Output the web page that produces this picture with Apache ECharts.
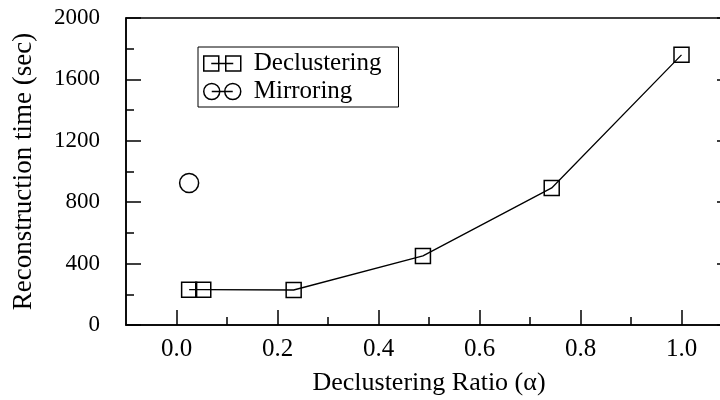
<!DOCTYPE html>
<html>
<head>
<meta charset="utf-8">
<script src="https://cdn.jsdelivr.net/npm/echarts@6/dist/echarts.min.js"></script>
<style>
  html, body { margin: 0; padding: 0; background: #fff; }
  #chart { width: 720px; height: 400px; }
</style>
</head>
<body>
<div id="chart"></div>
<script>
// Reconstruction time vs. declustering ratio
const seriesNames = ['Declustering', 'Mirroring'];
const declusterRatio = [0.025, 0.053, 0.232, 0.488, 0.743, 1.0];
const declusterTime = [230, 230, 228, 450, 893, 1760];
const mirrorRatio = [0.025];
const mirrorTime = [925];
const xMajorTicks = [0.0, 0.2, 0.4, 0.6, 0.8, 1.0];
const xMinorTicks = [0.1, 0.3, 0.5, 0.7, 0.9];
const xTitle = 'Declustering Ratio (α)';
const yTitle = 'Reconstruction time (sec)';

const FONT = '"Liberation Serif", "Times New Roman", serif';
const INK = '#000';

const pairs = (xs, ys) => xs.map((x, i) => [x, ys[i]]);

// legend glyphs: two markers joined by a short line
const rectPairIcon = 'path://M0,0L15,0L15,15L0,15Z M22,0L37,0L37,15L22,15Z M7.5,7.5L29.5,7.5';
const circlePairIcon = 'path://M0,8A8,8 0 1,0 16,8A8,8 0 1,0 0,8Z M21,8A8,8 0 1,0 37,8A8,8 0 1,0 21,8Z M8,8L29,8';

const chart = echarts.init(document.getElementById('chart'), null, { renderer: 'canvas' });

const markerStyle = { color: 'rgba(0,0,0,0)', borderColor: INK, borderWidth: 1.5 };

chart.setOption({
  animation: false,
  backgroundColor: '#fff',
  textStyle: { fontFamily: FONT, color: INK },
  grid: {
    left: 126, top: 18, width: 606, height: 307,
    outerBoundsMode: 'none', containLabel: false,
    show: true, borderColor: INK, borderWidth: 1.5, backgroundColor: 'rgba(0,0,0,0)'
  },
  legend: {
    orient: 'vertical',
    left: 198, top: 47,
    padding: [4, 17, 3, 5],
    itemGap: 3,
    itemWidth: 37, itemHeight: 16,
    borderColor: INK, borderWidth: 1,
    backgroundColor: '#fff',
    formatter: name => '{t|' + name + '}',
    textStyle: {
      fontFamily: FONT, fontSize: 25, color: INK,
      rich: { t: { fontFamily: FONT, fontSize: 25, color: INK, padding: [0, 0, 0, 8] } }
    },
    data: [
      { name: seriesNames[0], icon: rectPairIcon, itemStyle: markerStyle },
      { name: seriesNames[1], icon: circlePairIcon, itemStyle: markerStyle }
    ]
  },
  xAxis: [
    {
      type: 'value', min: -0.1, max: 1.1, position: 'bottom',
      axisLine: { show: true, onZero: false, lineStyle: { color: INK, width: 1.5 } },
      axisTick: { show: true, inside: true, length: 15, customValues: xMajorTicks, lineStyle: { color: INK, width: 1.5 } },
      axisLabel: {
        customValues: xMajorTicks, formatter: v => v.toFixed(1),
        fontFamily: FONT, fontSize: 25, color: INK, margin: 12
      },
      splitLine: { show: false },
      name: xTitle, nameLocation: 'middle', nameGap: 45,
      nameTextStyle: { fontFamily: FONT, fontSize: 26, color: INK }
    },
    {
      type: 'value', min: -0.1, max: 1.1, position: 'bottom',
      axisLine: { show: false },
      axisTick: { show: true, inside: true, length: 8, customValues: xMinorTicks, lineStyle: { color: INK, width: 1.5 } },
      axisLabel: { show: false },
      splitLine: { show: false }
    }
  ],
  yAxis: [
    {
      type: 'value', min: 0, max: 2000, interval: 400, position: 'left',
      axisLine: { show: true, onZero: false, lineStyle: { color: INK, width: 1.5 } },
      axisTick: { show: true, inside: true, length: 15, lineStyle: { color: INK, width: 1.5 } },
      minorTick: { show: true, splitNumber: 2, length: 8, lineStyle: { color: INK, width: 1.5 } },
      axisLabel: { fontFamily: FONT, fontSize: 23, color: INK, margin: 26, formatter: v => String(v) },
      splitLine: { show: false },
      minorSplitLine: { show: false },
      name: yTitle, nameLocation: 'middle', nameGap: 89,
      nameTextStyle: { fontFamily: FONT, fontSize: 27, color: INK }
    },
    {
      type: 'value', min: 0, max: 2000, interval: 400, position: 'right',
      axisLine: { show: true, onZero: false, lineStyle: { color: INK, width: 1.5 } },
      axisTick: { show: true, inside: true, length: 15, lineStyle: { color: INK, width: 1.5 } },
      axisLabel: { show: false },
      splitLine: { show: false }
    }
  ],
  series: [
    {
      name: seriesNames[0], type: 'line',
      data: pairs(declusterRatio, declusterTime),
      symbol: 'rect', symbolSize: 15,
      itemStyle: markerStyle,
      lineStyle: { color: INK, width: 1.3 },
      z: 3
    },
    {
      name: seriesNames[1], type: 'line',
      data: pairs(mirrorRatio, mirrorTime),
      symbol: 'circle', symbolSize: 19,
      itemStyle: markerStyle,
      lineStyle: { color: INK, width: 1.3 },
      z: 3
    }
  ]
});
</script>
</body>
</html>
